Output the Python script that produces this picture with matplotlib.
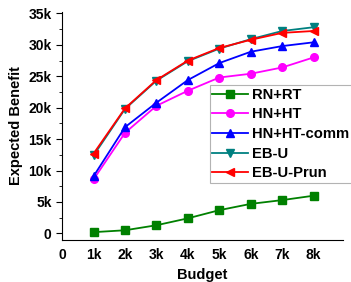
import numpy as np
import matplotlib.pyplot as plt
from matplotlib.ticker import MultipleLocator, FuncFormatter

plt.rcParams['font.family'] = ['Liberation Sans', 'DejaVu Sans']
plt.rcParams['font.weight'] = 'bold'

budget = [1, 2, 3, 4, 5, 6, 7, 8]
rn_rt = [0.2, 0.5, 1.3, 2.4, 3.7, 4.7, 5.3, 6.0]
hn_ht = [8.6, 16.0, 20.3, 22.7, 24.8, 25.4, 26.4, 28.0]
hn_ht_comm = [9.1, 16.9, 20.8, 24.4, 27.1, 28.9, 29.8, 30.4]
eb_u = [12.4, 19.8, 24.3, 27.4, 29.4, 30.9, 32.2, 32.8]
eb_u_prun = [12.7, 19.9, 24.4, 27.5, 29.5, 30.8, 31.9, 32.2]

series = [
    ("RN+RT", rn_rt, "#008000", "s"),
    ("HN+HT", hn_ht, "#ff00ff", "o"),
    ("HN+HT-comm", hn_ht_comm, "#0000ff", "^"),
    ("EB-U", eb_u, "#008080", "v"),
    ("EB-U-Prun", eb_u_prun, "#ff0000", "<"),
]

fig = plt.figure(figsize=(3.51, 2.82), dpi=100)
ax = fig.add_axes([0.177, 0.150, 0.800, 0.807])

for name, vals, col, mk in series:
    ax.plot(budget, np.array(vals) * 1000, color=col, marker=mk, markersize=5.5,
            linewidth=1.3, label=name)

ax.set_xlim(0, 8.93)
ax.set_ylim(-1000, 35200)
ax.xaxis.set_major_locator(MultipleLocator(1))
ax.yaxis.set_major_locator(MultipleLocator(5000))
ax.yaxis.set_minor_locator(MultipleLocator(2500))
ax.xaxis.set_major_formatter(FuncFormatter(lambda v, p: "0" if v == 0 else "%dk" % v))
ax.yaxis.set_major_formatter(FuncFormatter(lambda v, p: "0" if v == 0 else "%dk" % (v / 1000)))
ax.tick_params(axis='x', length=0, labelsize=10, pad=6)
ax.tick_params(axis='y', which='major', length=4, direction='out', labelsize=10)
ax.tick_params(axis='y', which='minor', length=2, direction='out')
for s in ['top', 'right']:
    ax.spines[s].set_visible(False)

ax.set_xlabel("Budget", fontsize=10.5, fontweight='bold')
ax.set_ylabel("Expected Benefit", fontsize=10.5, fontweight='bold')

leg = ax.legend(loc='upper left', bbox_to_anchor=(0.525, 0.68), fontsize=10.6,
                frameon=True, fancybox=False, edgecolor='#a0a0a0',
                handlelength=2.4, borderaxespad=0, labelspacing=0.38,
                handletextpad=0.25, borderpad=0.2)
leg.get_frame().set_linewidth(0.8)

fig.savefig("out.png", dpi=100)
